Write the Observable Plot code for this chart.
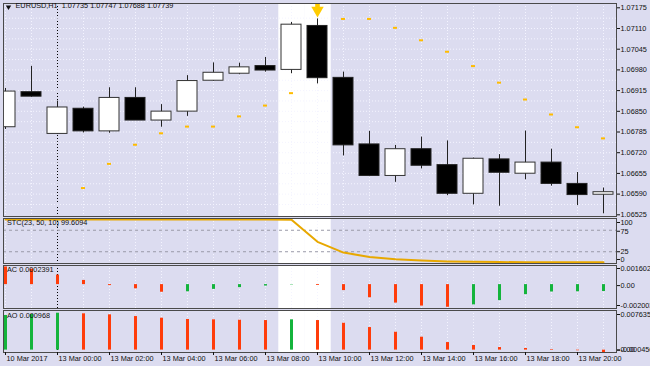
<!DOCTYPE html>
<html><head><meta charset="utf-8">
<script src="https://cdn.jsdelivr.net/npm/d3@7"></script>
<script src="https://cdn.jsdelivr.net/npm/@observablehq/plot@0.6"></script>
<style>
html,body{margin:0;padding:0;background:#DCDCF0;}
#wrap{position:relative;width:650px;height:366px;overflow:hidden;background:#DCDCF0;}
#wrap svg{position:absolute;left:0;overflow:visible;}
</style></head><body><div id="wrap"></div>
<script>
// ---------- data ----------
const bars = ["10 Mar 22:00","10 Mar 23:00","13 Mar 00:00","13 Mar 01:00","13 Mar 02:00","13 Mar 03:00",
  "13 Mar 04:00","13 Mar 05:00","13 Mar 06:00","13 Mar 07:00","13 Mar 08:00","13 Mar 09:00","13 Mar 10:00",
  "13 Mar 11:00","13 Mar 12:00","13 Mar 13:00","13 Mar 14:00","13 Mar 15:00","13 Mar 16:00","13 Mar 17:00",
  "13 Mar 18:00","13 Mar 19:00","13 Mar 20:00","13 Mar 21:00"];
const open  = [1.06800,1.06910,1.06779,1.06858,1.06787,1.06892,1.06821,1.06849,1.06946,1.06968,1.06992,1.06980,
               1.07118,1.06955,1.06746,1.06647,1.06731,1.06681,1.06591,1.06699,1.06654,1.06689,1.06622,1.06588];
const high  = [1.06922,1.06991,1.06882,1.06863,1.06924,1.06924,1.06871,1.06962,1.07002,1.07001,1.07019,1.07129,
               1.07140,1.06973,1.06787,1.06743,1.06769,1.06757,1.06703,1.06714,1.06788,1.06731,1.06658,1.06609];
const low   = [1.06793,1.06894,1.06777,1.06782,1.06781,1.06821,1.06800,1.06834,1.06944,1.06965,1.06973,1.06968,
               1.06936,1.06710,1.06645,1.06627,1.06669,1.06585,1.06556,1.06552,1.06635,1.06615,1.06554,1.06528];
const close = [1.06912,1.06896,1.06862,1.06787,1.06892,1.06821,1.06849,1.06945,1.06971,1.06988,1.06978,1.07122,
               1.06954,1.06743,1.06647,1.06731,1.06679,1.06591,1.06701,1.06657,1.06689,1.06622,1.06587,1.06596];
const sar   = [null,null,null,1.06609,1.06685,1.06745,1.06781,1.06802,1.06802,1.06834,1.06868,1.06907,
               null,1.07140,1.07140,1.07112,1.07073,1.07037,1.06992,1.06940,1.06887,1.06840,1.06800,1.06765];
const stc   = [100,100,100,100,100,100,100,100,100,100,100,99.6,48,23,13,7.5,4.5,2.5,1.5,1,0.6,0.4,0.3,0.3];
const ac    = [0.00148,0.00130,0.00080,0.00035,-0.00008,-0.00035,-0.00064,-0.00060,-0.00040,-0.00025,-0.00012,-0.00003,
               -0.00007,-0.00050,-0.00110,-0.00155,-0.00180,-0.00190,-0.00170,-0.00134,-0.00084,-0.00062,-0.00060,-0.00058];
const acUp  = [false,false,false,false,false,false,false,true,true,true,true,true,
               false,false,false,false,false,false,true,true,true,true,true,true];
const ao    = [0.00667,0.00686,0.00711,0.00700,0.00680,0.00647,0.00615,0.00590,0.00584,0.00576,0.00570,0.00584,
               0.00570,0.00518,0.00435,0.00345,0.00249,0.00146,0.00089,0.00050,0.00031,0.00012,-0.00012,-0.000456];
const aoUp  = [true,true,true,false,false,false,false,false,false,false,false,true,
               false,false,false,false,false,false,false,false,false,false,false,false];

const xTickBars   = ["10 Mar 22:00","13 Mar 00:00","13 Mar 02:00","13 Mar 04:00","13 Mar 06:00","13 Mar 08:00",
                     "13 Mar 10:00","13 Mar 12:00","13 Mar 14:00","13 Mar 16:00","13 Mar 18:00","13 Mar 20:00"];
const xTickLabels = ["10 Mar 2017","13 Mar 00:00","13 Mar 02:00","13 Mar 04:00","13 Mar 06:00","13 Mar 08:00",
                     "13 Mar 10:00","13 Mar 12:00","13 Mar 14:00","13 Mar 16:00","13 Mar 18:00","13 Mar 20:00"];
const priceTicks  = [1.07175,1.07110,1.07045,1.06980,1.06915,1.06850,1.06785,1.06720,1.06655,1.06590,1.06525];
const priceGrid   = [1.071425,1.07110,1.070775,1.07045,1.070125,1.06980,1.069475,1.06915,1.068825,1.06850,
                     1.068175,1.06785,1.067525,1.06720,1.066875,1.06655,1.066225,1.06590,1.065575];
const stcTicks    = [100,75,25,0];
const stcTickText = ["100","75","25","0"];
const stcLevels   = [75,25];
const acTicks     = [0.001602,0,-0.002003];
const acTickText  = ["0.001602","0.00","-0.002003"];
const aoTicks     = [0.007635,0,-0.000456];
const aoTickText  = ["0.007635","0.00","-0.000456"];
const highlightBars = ["13 Mar 09:00","13 Mar 10:00"];
const separatorBar  = "13 Mar 00:00";
const signalBar     = "13 Mar 10:00";
const titleText = "EURUSD,H1  1.07735 1.07747 1.07688 1.07739";
const stcText   = "STC(23, 50, 10) 99.6094";
const acText    = "AC 0.0002391";
const aoText    = "AO 0.000968";

// ---------- styling ----------
const FONT = "'Liberation Sans', Arial, sans-serif";
const FS = 7.3;
const UP = "#14b43c", DN = "#ff3c0a";
const FRAME = "#4a4a4a";
const GRID = "#f4f4ff";

const candles = bars.map((b, i) => ({bar: b, open: open[i], high: high[i], low: low[i], close: close[i]}));
const sarData = bars.map((b, i) => ({bar: b, v: sar[i]})).filter(d => d.v != null);
const stcData = bars.map((b, i) => ({bar: b, v: stc[i]}));
const acData  = bars.map((b, i) => ({bar: b, v: ac[i], up: acUp[i]}));
const aoData  = bars.map((b, i) => ({bar: b, v: ao[i], up: aoUp[i]}));
const signal  = candles.filter(d => d.bar === signalBar);

const xOpt = {type: "band", domain: bars, range: [-10.62, 619.14], paddingInner: 0.24, paddingOuter: 0.12, align: 0.5, axis: null, label: null};

const wrap = document.getElementById("wrap");
function panel(top, height, mt, mb, y, marks) {
  const svg = Plot.plot({
    width: 650, height, marginLeft: 3, marginRight: 34, marginTop: mt, marginBottom: mb,
    x: xOpt, y: {...y, axis: null, label: null},
    style: {background: "transparent", color: "#111", fontFamily: FONT, fontSize: FS + "px", overflow: "visible"},
    marks
  });
  svg.style.position = "absolute";
  svg.style.top = top + "px";
  wrap.appendChild(svg);
  return svg;
}
const common = () => [
  Plot.ruleX(highlightBars, {x: d => d, stroke: "white", strokeWidth: 26.4}),
  Plot.ruleX(bars, {x: d => d, stroke: GRID, strokeDasharray: "1,2"}),
  Plot.ruleX([separatorBar], {x: d => d, stroke: "#000", strokeDasharray: "1,2"})
];
const yAxis = (ticks, texts, dys) => ticks.map((t, i) => Plot.axisY([t], {anchor: "right", label: null, tickSize: 3, tickPadding: 1,
  tickFormat: () => texts[i], fontSize: FS, dy: dys[i]}));

// main price panel
panel(0, 217, 3, 1, {domain: [1.065197, 1.071885]}, [
  ...common(),
  Plot.ruleY(priceGrid, {stroke: GRID, strokeDasharray: "1,2"}),
  Plot.ruleX(candles, {x: "bar", y1: "low", y2: "high", stroke: "#222", clip: true}),
  Plot.barY(candles.filter(d => d.close >= d.open), {x: "bar", y1: "open", y2: "close", fill: "white", stroke: "#333", clip: true}),
  Plot.barY(candles.filter(d => d.close < d.open), {x: "bar", y1: "open", y2: "close", fill: "black", stroke: "#222", clip: true}),
  Plot.tickY(sarData, {x: "bar", y: "v", stroke: "#FFBC00", strokeWidth: 2, insetLeft: 8, insetRight: 8}),
  Plot.dot(signal, {x: "bar", y: "high", symbol: "triangle", rotate: 180, r: 4.6, fill: "#FFCC00", dy: -8.5}),
  Plot.dot(signal, {x: "bar", y: "high", symbol: "square", r: 2.6, fill: "#FFCC00", dy: -13.5}),
  Plot.axisY(priceTicks, {anchor: "right", label: null, tickSize: 3, tickPadding: 1, tickFormat: d => d.toFixed(5), fontSize: FS}),
  Plot.frame({stroke: FRAME}),
  Plot.dot([titleText], {frameAnchor: "top-left", symbol: "triangle", rotate: 180, r: 2, fill: "#111", dx: 5, dy: 3.5}),
  Plot.text([titleText], {frameAnchor: "top-left", text: d => d, textAnchor: "start", lineAnchor: "top", dx: 12, dy: -0.5, fontSize: FS, fill: "#111"})
]);

// STC panel
panel(217, 47, 1, 1, {domain: [-2.33, 102.33]}, [
  ...common(),
  Plot.ruleY(stcLevels, {stroke: "#9a9aa8", strokeDasharray: "3,3"}),
  Plot.line(stcData, {x: "bar", y: "v", stroke: "#E8A800", strokeWidth: 2}),
  ...yAxis(stcTicks, stcTickText, [3, 1, 0, -3]),
  Plot.frame({stroke: FRAME}),
  Plot.text([stcText], {frameAnchor: "top-left", text: d => d, textAnchor: "start", lineAnchor: "top", dx: 3.5, dy: 1.5, fontSize: FS, fill: "#111"})
]);

// AC panel
panel(264, 45, 1, 1, {domain: [-0.002003, 0.001602]}, [
  ...common(),
  Plot.ruleX(acData, {x: "bar", y1: 0, y2: "v", stroke: d => d.up ? UP : DN, strokeWidth: 3}),
  ...yAxis(acTicks, acTickText, [3, 1, -3]),
  Plot.frame({stroke: FRAME}),
  Plot.text([acText], {frameAnchor: "top-left", text: d => d, textAnchor: "start", lineAnchor: "top", dx: 3.5, dy: 1, fontSize: FS, fill: "#111"})
]);

// AO panel + time axis
const labelOf = new Map(xTickBars.map((b, i) => [b, xTickLabels[i]]));
panel(309, 57, 1, 14, {domain: [-0.000456, 0.007635]}, [
  ...common(),
  Plot.ruleX(aoData, {x: "bar", y1: 0, y2: "v", stroke: d => d.up ? UP : DN, strokeWidth: 3}),
  ...yAxis(aoTicks, aoTickText, [4, 0, -2.5]),
  Plot.frame({stroke: FRAME}),
  Plot.text([aoText], {frameAnchor: "top-left", text: d => d, textAnchor: "start", lineAnchor: "top", dx: 3.5, dy: 2, fontSize: FS, fill: "#111"}),
  Plot.axisX(xTickBars, {anchor: "bottom", label: null, tickSize: 3, tickFormat: () => "", fontSize: FS}),
  Plot.text(xTickBars, {x: d => d, text: d => labelOf.get(d), frameAnchor: "bottom", textAnchor: "start", lineAnchor: "top", dx: 1, dy: 3.5, fontSize: FS, fill: "#111"})
]);
</script></body></html>
